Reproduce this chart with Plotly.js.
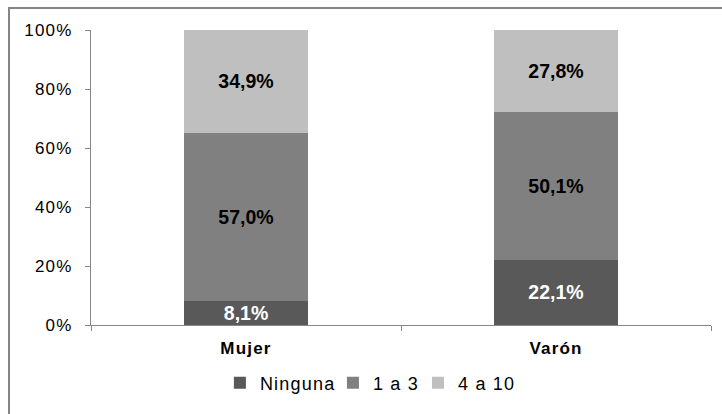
<!DOCTYPE html>
<html><head><meta charset="utf-8">
<script src="https://cdn.plot.ly/plotly-3.0.1.min.js"></script>
<style>
html,body{margin:0;padding:0;background:#fff;overflow:hidden;}
#chart{width:722px;height:414px;}
#chart .ytick text, #chart .xtick text, #chart .legendtext {letter-spacing: 1.2px;}
</style>
</head><body><div id="chart"></div>
<script>
const categories = ['Mujer', 'Varón'];
const seriesNames = ['Ninguna', '1 a 3', '4 a 10'];
const ninguna = [8.1, 22.1];
const unoATres = [57.0, 50.1];
const cuatroADiez = [34.9, 27.8];
const tickVals = [0, 20, 40, 60, 80, 100];
const tickText = ['0%', '20%', '40%', '60%', '80%', '100%'];

const colors = ['#595959', '#808080', '#bfbfbf'];
const textColors = ['#ffffff', '#000000', '#000000'];
const values = [ninguna, unoATres, cuatroADiez];

const traces = values.map((v, i) => ({
  type: 'bar',
  name: seriesNames[i],
  x: categories,
  y: v,
  marker: {color: colors[i], line: {width: 0}},
  texttemplate: '%{y:.1f}%',
  textposition: 'inside',
  insidetextanchor: 'middle',
  textangle: 0,
  constraintext: 'none',
  textfont: {family: 'Liberation Sans, Arial, sans-serif', size: 19.5, color: textColors[i], weight: 'bold'},
  hoverinfo: 'none'
}));

const L = 91, R = 11, T = 30, B = 89;
const pw = 722 - L - R, ph = 414 - T - B;
const layout = {
  width: 722, height: 414,
  margin: {l: L, r: R, t: T, b: B, pad: 0},
  barmode: 'stack',
  bargap: 0.6,
  separators: ',.',
  paper_bgcolor: '#fff', plot_bgcolor: '#fff',
  font: {family: 'Liberation Sans, Arial, sans-serif', size: 17, color: '#000'},
  showlegend: true,
  legend: {orientation: 'h', x: 0.445, xanchor: 'center', y: (325 - 383) / ph, yanchor: 'middle',
           font: {size: 18, color: '#000'}, itemwidth: 20, tracegroupgap: 0, traceorder: 'normal'},
  xaxis: {type: 'category', showline: true, linecolor: '#868686', linewidth: 1,
          ticks: 'outside', tickson: 'boundaries', ticklen: 5, tickcolor: '#868686',
          tickfont: {size: 17, weight: 'bold'}, ticklabelstandoff: 8,
          showgrid: false, zeroline: false, fixedrange: true},
  yaxis: {range: [0, 100], tickvals: tickVals, ticktext: tickText, showline: true, linecolor: '#868686',
          linewidth: 1, ticks: 'outside', ticklen: 5, tickcolor: '#868686', showgrid: false, zeroline: false,
          tickfont: {size: 17}, ticklabelstandoff: 9},
  shapes: [{type: 'rect', xref: 'paper', yref: 'paper',
            x0: (9 - L) / pw, x1: (740 - L) / pw, y0: (325 - 440) / ph, y1: (325 - 8) / ph,
            line: {color: '#868686', width: 2}, fillcolor: 'rgba(0,0,0,0)', layer: 'below'}]
};
Plotly.newPlot('chart', traces, layout, {staticPlot: true, displayModeBar: false});
</script></body></html>
